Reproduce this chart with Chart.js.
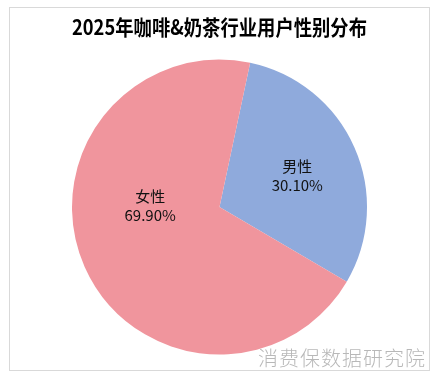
<!DOCTYPE html>
<html lang="zh-CN">
<head>
<meta charset="utf-8">
<title>2025年咖啡&amp;奶茶行业用户性别分布</title>
<script src="https://cdn.jsdelivr.net/npm/chart.js@4/dist/chart.umd.min.js"></script>
<style>
  html, body { margin: 0; padding: 0; background: #fff; }
  #wrap { width: 437px; height: 374px; }
</style>
</head>
<body>
<div id="wrap"><canvas id="c" width="437" height="374"></canvas></div>
<script>
// --- data -------------------------------------------------------------
const genders = ['男性', '女性'];
const shares  = [30.10, 69.90];          // percent
const sliceColors = ['#8FAADC', '#F0959D'];

const TITLE = '2025年咖啡&奶茶行业用户性别分布';
const WATERMARK = '消费保数据研究院';

// label placement inside each slice: shift from mid-angle (deg) + radius fraction
const LABEL_SHIFT = [1.5, 25];
const LABEL_RADIUS = [0.57, 0.47];

const CJK = '"Noto Sans CJK SC", "Noto Sans", sans-serif';

// frame + watermark drawn straight on the canvas
const frame = {
  id: 'frame',
  beforeDraw(chart) {
    const ctx = chart.ctx;
    ctx.save();
    ctx.fillStyle = '#fff';
    ctx.fillRect(0, 0, chart.width, chart.height);
    ctx.strokeStyle = '#d9d9d9';
    ctx.lineWidth = 1;
    ctx.strokeRect(9.5, 7.5, 420, 363);
    ctx.restore();
  },
  afterDraw(chart) {
    const ctx = chart.ctx;
    ctx.save();
    ctx.font = '300 20px ' + CJK;
    if ('letterSpacing' in ctx) ctx.letterSpacing = '1px';
    ctx.fillStyle = '#b8b8b8';
    ctx.textAlign = 'left';
    ctx.textBaseline = 'middle';
    ctx.fillText(WATERMARK, 258, 358);
    ctx.restore();
  }
};

// two-line "name / pct" label in each slice
const sliceLabels = {
  id: 'sliceLabels',
  afterDatasetsDraw(chart) {
    const ctx = chart.ctx;
    const meta = chart.getDatasetMeta(0);
    ctx.save();
    ctx.font = '15px ' + CJK;
    ctx.fillStyle = '#111';
    ctx.textAlign = 'center';
    ctx.textBaseline = 'middle';
    meta.data.forEach((arc, i) => {
      const p = arc.getProps(['x', 'y', 'startAngle', 'endAngle', 'outerRadius'], true);
      const mid = (p.startAngle + p.endAngle) / 2 + LABEL_SHIFT[i] * Math.PI / 180;
      const r = p.outerRadius * LABEL_RADIUS[i];
      const x = p.x + Math.cos(mid) * r;
      const y = p.y + Math.sin(mid) * r;
      ctx.fillText(genders[i], x, y - 9);
      ctx.fillText(shares[i].toFixed(2) + '%', x, y + 10);
    });
    ctx.restore();
  }
};

new Chart(document.getElementById('c'), {
  type: 'pie',
  data: {
    labels: genders,
    datasets: [{
      data: shares,
      backgroundColor: sliceColors,
      borderWidth: 0
    }]
  },
  options: {
    responsive: false,
    animation: false,
    rotation: 12,
    layout: { padding: { left: 72, right: 70, top: 0, bottom: 19 } },
    plugins: {
      legend: { display: false },
      tooltip: { enabled: false },
      title: {
        display: true,
        text: TITLE,
        color: '#000',
        font: { family: CJK, size: 21, weight: 'bold', lineHeight: 1.2 },
        padding: { top: 14, bottom: 20 }
      }
    }
  },
  plugins: [frame, sliceLabels]
});
</script>
</body>
</html>
